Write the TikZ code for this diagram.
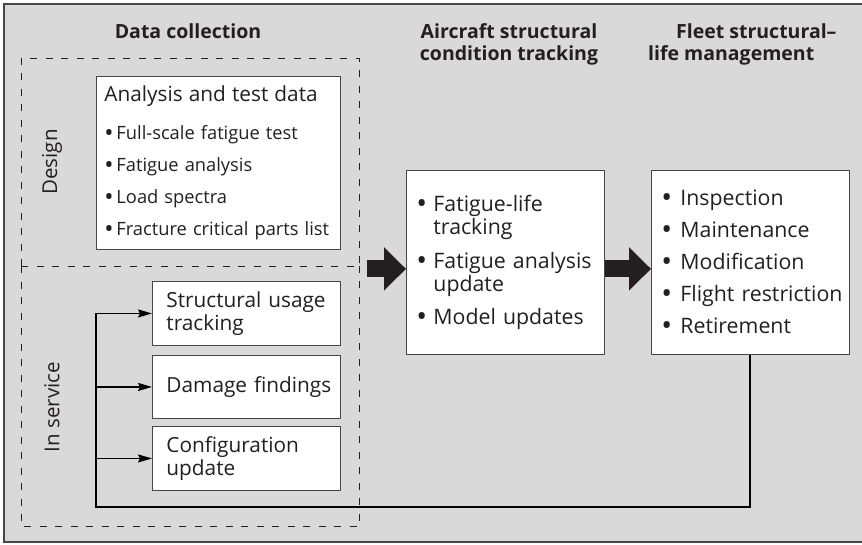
\documentclass[tikz,border=0pt]{standalone}
\usepackage{fontspec}
\setmainfont{Open Sans}
\usetikzlibrary{arrows.meta,calc}

\definecolor{panel}{RGB}{217,217,217}
\definecolor{frame}{RGB}{70,70,70}
\definecolor{ink}{RGB}{35,31,32}

% bullet set in a fixed-width slot, and an empty slot of the same width
\newcommand{\bul}[1][16pt]{\makebox[#1][l]{\raisebox{-0.1em}{\scalebox{1.35}{\textbullet}}}}
\newcommand{\hang}[1][16pt]{\makebox[#1]{}}

\tikzset{
  x=1pt, y=-1pt,
  whitebox/.style={draw=frame, fill=white, line width=0.9pt, anchor=north west,
    align=left, inner ysep=0pt, text=ink},
  zoneline/.style={draw=ink, dash pattern=on 7pt off 8.5pt, line width=0.9pt},
  zone/.style={zoneline, anchor=north west, inner sep=0pt},
  heading/.style={font=\fontsize{19.5}{22}\selectfont\bfseries, text=ink},
  sidelabel/.style={font=\fontsize{20.5}{22}\selectfont, rotate=90, text=ink},
  feed/.style={line width=2pt, draw=black},
  feedarrow/.style={line width=1.8pt, draw=black, -{Stealth[length=14pt, width=8pt, inset=2pt]}},
  bigarrow/.style={draw=ink, line width=17pt,
    -{Triangle[length=22pt, width=42pt]}},
}

\begin{document}
\begin{tikzpicture}
  % panel
  \useasboundingbox (0,0) rectangle (862,544);
  \draw[fill=panel, draw=frame, line width=1.5pt] (4,4) rectangle (864,542);

  % headings
  \node[heading] (h1) at (188,31) {Data collection};
  \node[heading, align=center] (h2) at (509,44) {Aircraft structural\\condition tracking};
  \node[heading, align=left, anchor=west, inner sep=0pt] (h3) at (648,44)
    {\hspace*{28pt}Fleet structural–\\life management};

  % design / in-service zones
  \node[zone, minimum width=338pt, minimum height=208pt] (design) at (21,58) {};
  \node[draw=none, anchor=north west, inner sep=0pt,
        minimum width=338pt, minimum height=260pt] (service) at (21,266) {};
  \draw[zoneline] (service.north west) -- (service.south west)
                  -- (service.south east) -- (service.north east);
  \node[sidelabel] (dlab) at (52,162) {Design};
  \node[sidelabel] (slab) at (52,407) {In service};

  % design data
  \node[whitebox, minimum height=173pt, text width=228pt, inner xsep=8pt,
        font=\fontsize{18.3}{32}\selectfont] (analysis) at (96,76)
    {\mbox{\fontsize{20.8}{22}\selectfont Analysis and test data}\\[6pt]
     \mbox{\bul[12pt]Full-scale fatigue test}\\
     \mbox{\bul[12pt]Fatigue analysis}\\
     \mbox{\bul[12pt]Load spectra}\\
     \mbox{\bul[12pt]Fracture critical parts list}};

  % in-service data
  \node[whitebox, minimum height=64pt, text width=160pt, inner xsep=14pt,
        font=\fontsize{20.8}{23}\selectfont] (usage) at (152,281)
    {\mbox{Structural usage}\\tracking};
  \node[whitebox, minimum height=63pt, text width=160pt, inner xsep=14pt,
        font=\fontsize{20.8}{23}\selectfont] (damage) at (152,355)
    {\mbox{Damage findings}};
  \node[whitebox, minimum height=64pt, text width=160pt, inner xsep=14pt,
        font=\fontsize{20.8}{23}\selectfont] (config) at (152,426)
    {\mbox{Configuration}\\update};

  % condition tracking
  \node[whitebox, minimum height=184pt, text width=178pt, inner xsep=10pt,
        font=\fontsize{21.3}{23}\selectfont] (track) at (406,170)
    {\mbox{\bul[17pt]Fatigue-life}\\ \mbox{\hang[17pt]tracking}\\[11pt]
     \mbox{\bul[17pt]Fatigue analysis}\\ \mbox{\hang[17pt]update}\\[10pt]
     \mbox{\bul[17pt]Model updates}};

  % fleet management
  \node[whitebox, minimum height=184pt, text width=178pt, inner xsep=10pt,
        font=\fontsize{21.3}{32}\selectfont] (fleet) at (651,170)
    {\mbox{\bul[19pt]Inspection}\\
     \mbox{\bul[19pt]Maintenance}\\
     \mbox{\bul[19pt]Modification}\\
     \mbox{\bul[19pt]Flight restriction}\\
     \mbox{\bul[19pt]Retirement}};

  % flow between stages
  \coordinate (flow) at ($(design.south east)+(0,2)$);
  \draw[bigarrow, shorten <=7pt] (flow) -- (track.west |- flow);
  \draw[bigarrow] (track.east |- flow) -- (fleet.west |- flow);

  % feedback loop
  \coordinate (loop) at (96,507);
  \draw[feed] (fleet.south) |- (loop) -- (loop |- usage.west);
  \draw[feedarrow] (loop |- usage.west) -- (usage.west);
  \draw[feedarrow] (loop |- damage.west) -- (damage.west);
  \draw[feedarrow] (loop |- config.west) -- (config.west);
\end{tikzpicture}
\end{document}
